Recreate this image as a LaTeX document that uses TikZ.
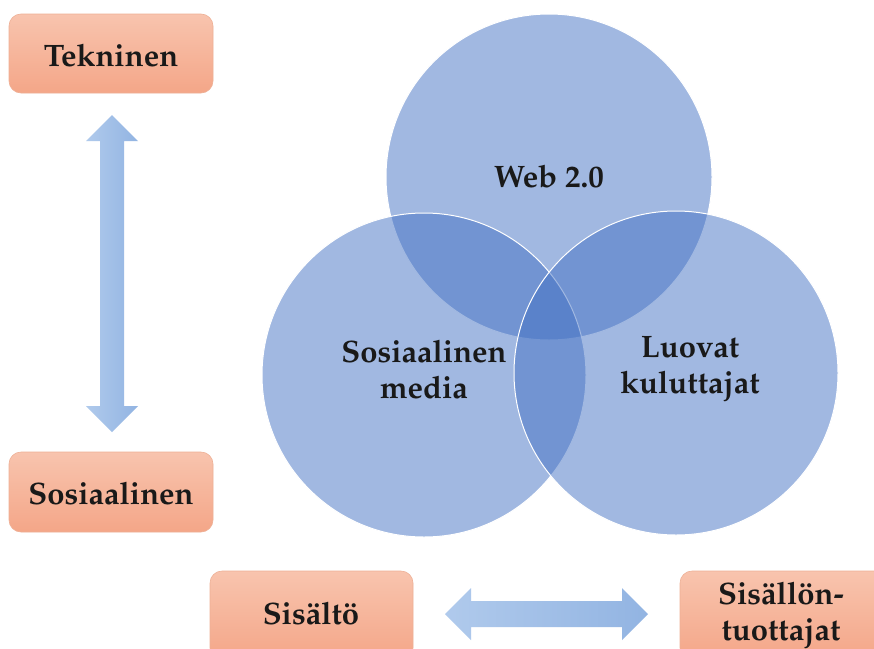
\documentclass[tikz,border=0pt]{standalone}
\usepackage[T1]{fontenc}
\usepackage{mathpazo}
\usetikzlibrary{calc}
\definecolor{circblue}{RGB}{68,114,196}
\definecolor{boxtop}{RGB}{248,196,174}
\definecolor{boxbot}{RGB}{244,166,136}
\definecolor{boxline}{RGB}{238,176,150}
\definecolor{arrlight}{RGB}{176,202,236}
\definecolor{arrdark}{RGB}{146,180,226}
\begin{document}
\begin{tikzpicture}[x=1pt,y=-1pt,
  lbl/.style={font=\fontsize{31}{36}\selectfont\bfseries, text=black!90, align=center},
  salbox/.style={rounded corners=12pt, top color=boxtop, bottom color=boxbot, draw=boxline, line width=0.6pt},
  venn/.style={fill=circblue, fill opacity=0.5, draw=white, line width=1pt}]
\useasboundingbox (0,0) rectangle (874,648);
% Venn circles
\fill[white] (0,0) rectangle (874,648);
\path[venn] (549,177) circle (163);
\path[venn] (424,375) circle (162);
\path[venn] (676,373) circle (162);
\node[lbl] (web) at (549,176) {Web 2.0};
\node[lbl] (some) at (424,369) {Sosiaalinen\\media};
\node[lbl] (luovat) at (690,369) {Luovat\\kuluttajat};
% boxes
\path[salbox] (9,14) rectangle (213,93);
\node[lbl] (tek) at (111,55) {Tekninen};
\path[salbox] (9,452) rectangle (213,532);
\node[lbl] (sos) at (111,493) {Sosiaalinen};
\path[salbox] (210,571) rectangle (413,660);
\node[lbl] (sis) at (311,613) {Sis\"alt\"o};
\path[salbox] (680,571) rectangle (890,660);
\node[lbl] (sist) at (781,615) {Sis\"all\"on-\\tuottajat};
% arrows
\path[left color=arrlight, right color=arrdark]
  (112,115) -- (138,141) -- (124,141) -- (124,406) -- (138,406) -- (112,432)
  -- (86,406) -- (100,406) -- (100,141) -- (86,141) -- cycle;
\path[left color=arrlight, right color=arrdark]
  (445,614) -- (471,588) -- (471,601) -- (622,601) -- (622,588) -- (648,614)
  -- (622,640) -- (622,627) -- (471,627) -- (471,640) -- cycle;
\end{tikzpicture}
\end{document}
